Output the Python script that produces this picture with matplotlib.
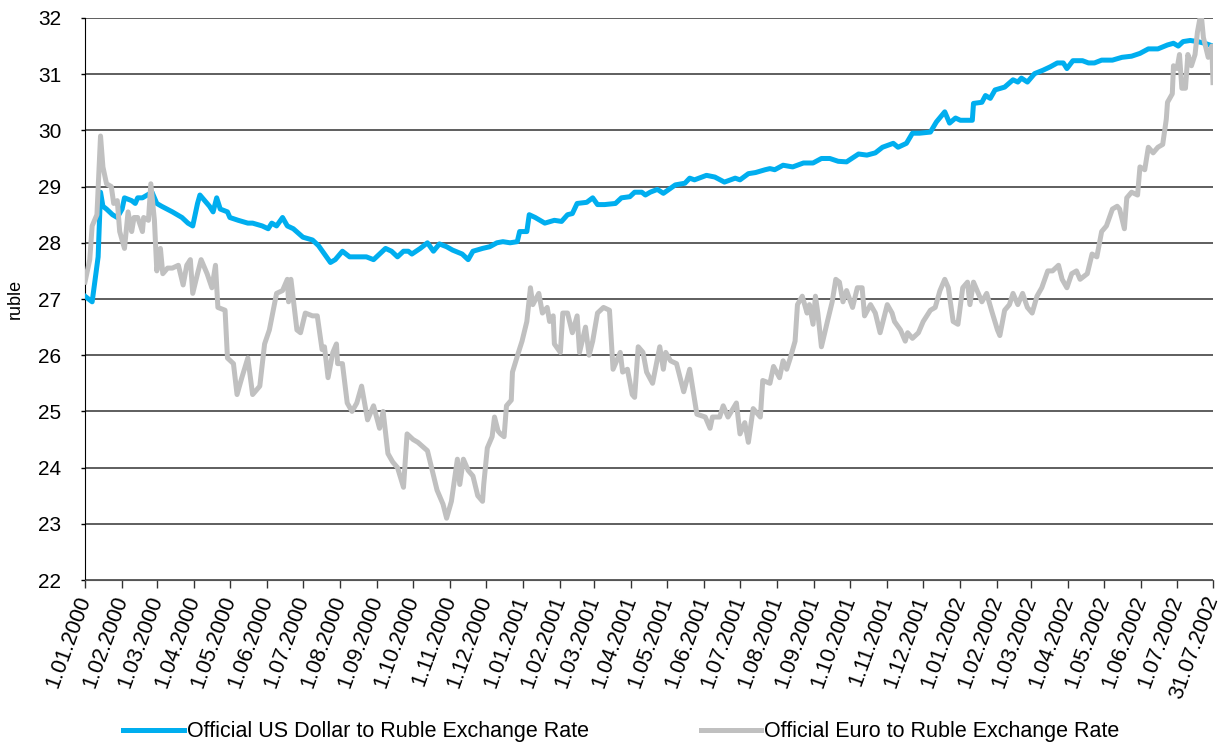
import pandas as pd
import matplotlib.pyplot as plt

plt.rcParams["font.family"] = ["Liberation Sans", "DejaVu Sans"]

# days counted from 1.01.2000, rates in rubles
usd_day = [0, 6, 11, 13, 15, 18, 23, 27, 31, 33, 39, 42, 44, 48, 52, 56, 60, 64, 73, 81,
           86, 90, 94, 96, 100, 104, 107, 110, 113, 119, 121, 128, 136, 140, 148, 153, 156, 160, 165, 169,
           174, 182, 190, 195, 200, 205, 209, 215, 221, 228, 235, 241, 246, 251, 256, 261, 266, 270, 273, 280,
           286, 291, 296, 302, 307, 315, 320, 324, 332, 338, 344, 349, 355, 361, 363, 369, 371, 376, 384, 392,
           398, 403, 407, 411, 419, 424, 428, 434, 443, 448, 455, 459, 465, 468, 472, 478, 483, 489, 493, 501,
           505, 509, 519, 526, 534, 543, 547, 554, 560, 568, 572, 576, 583, 591, 600, 608, 615, 622, 629, 636,
           646, 653, 660, 666, 675, 679, 686, 691, 697, 706, 711, 718, 722, 727, 731, 741, 742, 749, 752, 756,
           760, 768, 775, 779, 782, 787, 793, 800, 806, 812, 817, 820, 825, 833, 838, 843, 849, 858, 866, 874,
           881, 888, 896, 904, 909, 913, 917, 923, 929, 935, 942]
usd_rate = [27.05, 26.95, 27.75, 28.9, 28.65, 28.6, 28.5, 28.45, 28.6, 28.8, 28.75, 28.7, 28.8, 28.8, 28.85, 28.9, 28.7, 28.65, 28.55, 28.45,
            28.35, 28.3, 28.7, 28.85, 28.75, 28.65, 28.55, 28.8, 28.6, 28.55, 28.45, 28.4, 28.35, 28.35, 28.3, 28.25, 28.35, 28.3, 28.45, 28.3,
            28.25, 28.1, 28.05, 27.95, 27.8, 27.65, 27.7, 27.85, 27.75, 27.75, 27.75, 27.7, 27.8, 27.9, 27.85, 27.75, 27.85, 27.85, 27.8, 27.9,
            28.0, 27.85, 27.98, 27.93, 27.87, 27.8, 27.7, 27.85, 27.9, 27.93, 28.0, 28.02, 28.0, 28.02, 28.2, 28.2, 28.5, 28.45, 28.35, 28.4,
            28.38, 28.5, 28.52, 28.7, 28.72, 28.8, 28.68, 28.68, 28.7, 28.8, 28.82, 28.9, 28.9, 28.85, 28.9, 28.95, 28.88, 28.97, 29.03, 29.06,
            29.15, 29.12, 29.2, 29.17, 29.08, 29.15, 29.12, 29.23, 29.25, 29.3, 29.32, 29.3, 29.38, 29.35, 29.42, 29.42, 29.5, 29.5, 29.45, 29.44,
            29.58, 29.56, 29.6, 29.7, 29.77, 29.7, 29.77, 29.95, 29.95, 29.97, 30.15, 30.33, 30.13, 30.22, 30.18, 30.18, 30.48, 30.5, 30.62, 30.57,
            30.72, 30.77, 30.9, 30.86, 30.93, 30.86, 31.01, 31.07, 31.13, 31.2, 31.2, 31.1, 31.24, 31.24, 31.2, 31.2, 31.25, 31.25, 31.3, 31.32,
            31.37, 31.45, 31.45, 31.52, 31.55, 31.5, 31.58, 31.6, 31.58, 31.55, 31.5]

eur_day = [0, 4, 6, 10, 13, 15, 18, 22, 24, 27, 29, 33, 36, 39, 41, 44, 48, 49, 53, 55,
           58, 60, 63, 65, 69, 73, 78, 82, 85, 88, 90, 94, 97, 102, 106, 109, 111, 117, 119, 124,
           127, 131, 136, 140, 146, 150, 154, 160, 165, 169, 170, 172, 177, 180, 184, 190, 194, 198, 200, 203,
           207, 210, 211, 215, 219, 223, 227, 231, 236, 241, 246, 249, 253, 257, 261, 266, 269, 274, 278, 286,
           290, 294, 299, 302, 306, 311, 313, 316, 320, 324, 328, 332, 333, 336, 340, 342, 345, 347, 350, 352,
           356, 357, 362, 365, 369, 372, 374, 379, 382, 386, 388, 391, 392, 397, 399, 403, 407, 411, 413, 418,
           421, 424, 428, 433, 438, 441, 447, 449, 453, 457, 459, 462, 466, 469, 474, 480, 483, 485, 489, 494,
           500, 505, 511, 518, 522, 524, 530, 533, 537, 544, 547, 551, 554, 558, 564, 566, 572, 575, 580, 583,
           586, 589, 593, 595, 599, 603, 605, 608, 610, 612, 615, 620, 624, 627, 630, 633, 636, 641, 645, 649,
           651, 656, 660, 664, 670, 674, 676, 681, 685, 687, 691, 696, 700, 706, 710, 714, 718, 721, 725, 729,
           733, 737, 739, 742, 746, 749, 753, 757, 762, 764, 768, 772, 775, 779, 783, 787, 791, 795, 799, 804,
           808, 813, 816, 820, 824, 828, 831, 837, 841, 845, 849, 853, 858, 862, 864, 868, 870, 874, 879, 881,
           885, 888, 892, 896, 900, 903, 904, 908, 909, 912, 914, 916, 919, 921, 924, 927, 929, 932, 934, 938,
           941, 942]
eur_rate = [27.3, 27.7, 28.3, 28.5, 29.9, 29.35, 29.05, 29.0, 28.7, 28.75, 28.2, 27.9, 28.55, 28.2, 28.45, 28.45, 28.2, 28.45, 28.4, 29.05,
            28.4, 27.5, 27.9, 27.45, 27.55, 27.55, 27.6, 27.25, 27.6, 27.7, 27.1, 27.45, 27.7, 27.45, 27.2, 27.6, 26.85, 26.8, 25.95, 25.85,
            25.3, 25.6, 25.95, 25.3, 25.45, 26.2, 26.45, 27.1, 27.15, 27.35, 26.95, 27.35, 26.45, 26.4, 26.75, 26.7, 26.7, 26.1, 26.15, 25.6,
            26.05, 26.2, 25.85, 25.85, 25.15, 25.0, 25.15, 25.45, 24.85, 25.1, 24.7, 25.0, 24.25, 24.1, 24.0, 23.65, 24.6, 24.5, 24.45, 24.3,
            23.95, 23.6, 23.35, 23.1, 23.4, 24.15, 23.7, 24.15, 23.95, 23.85, 23.5, 23.4, 23.7, 24.35, 24.55, 24.9, 24.65, 24.6, 24.55, 25.1,
            25.2, 25.7, 26.05, 26.25, 26.6, 27.2, 26.9, 27.1, 26.75, 26.85, 26.6, 26.7, 26.2, 26.05, 26.75, 26.75, 26.4, 26.7, 26.05, 26.5,
            26.0, 26.25, 26.75, 26.85, 26.8, 25.75, 26.05, 25.7, 25.75, 25.3, 25.25, 26.15, 26.05, 25.7, 25.5, 26.15, 25.75, 26.05, 25.9, 25.85,
            25.35, 25.75, 24.95, 24.9, 24.7, 24.9, 24.9, 25.1, 24.9, 25.15, 24.6, 24.8, 24.45, 25.05, 24.9, 25.55, 25.5, 25.8, 25.6, 25.9,
            25.75, 25.95, 26.25, 26.9, 27.05, 26.75, 26.9, 26.55, 27.05, 26.75, 26.15, 26.6, 26.95, 27.35, 27.3, 26.95, 27.15, 26.85, 27.2, 27.2,
            26.7, 26.9, 26.75, 26.4, 26.9, 26.75, 26.6, 26.45, 26.25, 26.4, 26.3, 26.4, 26.6, 26.8, 26.85, 27.15, 27.35, 27.2, 26.6, 26.55,
            27.2, 27.3, 26.9, 27.3, 27.1, 26.95, 27.1, 26.8, 26.45, 26.35, 26.8, 26.9, 27.1, 26.9, 27.1, 26.85, 26.75, 27.05, 27.2, 27.5,
            27.5, 27.6, 27.35, 27.2, 27.45, 27.5, 27.35, 27.45, 27.8, 27.75, 28.2, 28.3, 28.6, 28.65, 28.6, 28.25, 28.8, 28.9, 28.85, 29.35,
            29.3, 29.7, 29.6, 29.7, 29.75, 30.2, 30.5, 30.65, 31.15, 31.1, 31.35, 30.75, 30.75, 31.35, 31.15, 31.35, 31.75, 32.1, 31.65, 31.3,
            31.5, 30.85]

start = pd.Timestamp("2000-01-01")
usd_dates = start + pd.to_timedelta(usd_day, unit="D")
eur_dates = start + pd.to_timedelta(eur_day, unit="D")

tick_dates = list(pd.date_range("2000-01-01", "2002-07-01", freq="MS")) + [pd.Timestamp("2002-07-31")]
tick_labels = [f"{d.day}.{d.month:02d}.{d.year}" for d in tick_dates]

fig = plt.figure(figsize=(12.26, 7.49), dpi=100)
ax = fig.add_axes([0.0693, 0.2256, 0.9201, 0.7504])

ax.plot(usd_dates, usd_rate, color="#00AEEF", linewidth=3.6, solid_joinstyle="round",
        label="Official US Dollar to Ruble Exchange Rate", zorder=3)
ax.plot(eur_dates, eur_rate, color="#C0C0C0", linewidth=3.6, solid_joinstyle="round",
        label="Official Euro to Ruble Exchange Rate", zorder=4)

ax.set_xlim(start, pd.Timestamp("2002-07-31"))
ax.set_ylim(22, 32)
ax.set_yticks(range(22, 33))
ax.set_yticklabels([str(v) for v in range(22, 33)], fontsize=15)
ax.set_xticks(tick_dates)
ax.set_xticklabels(tick_labels, rotation=70, ha="right", va="center",
                   rotation_mode="anchor", fontsize=15.5)
ax.tick_params(axis="x", length=6, width=1, color="#333333", pad=6)
ax.tick_params(axis="y", length=3, width=1, pad=14)

ax.grid(axis="y", color="#333333", linewidth=1.1)
ax.set_axisbelow(True)
for side in ["top", "right"]:
    ax.spines[side].set_visible(False)
ax.spines["left"].set_color("black")
ax.spines["bottom"].set_color("#555555")

ax.set_ylabel("ruble", fontsize=13, labelpad=10)

fig.legend(loc="center", bbox_to_anchor=(0.507, 0.0227), ncol=2, frameon=False,
           fontsize=15.5, handlelength=2.8, handletextpad=0.15, columnspacing=5.2)

fig.savefig("out.png", dpi=100)
